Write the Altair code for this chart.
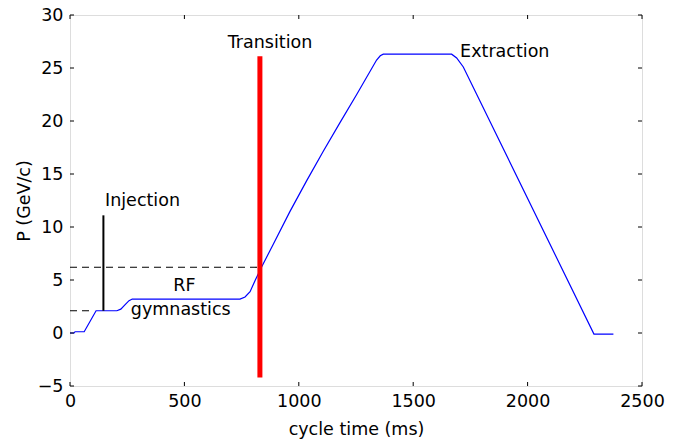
import altair as alt
import pandas as pd

# ---- data ----
t_ms = [0, 18, 22, 62, 114, 205, 222, 240, 258, 272, 743, 765, 787, 810, 838,
        889, 961, 1034, 1107, 1180, 1253, 1340, 1356, 1369, 1668, 1690, 1719, 2290, 2375]
p_gev = [0.0, 0.0, 0.12, 0.12, 2.1, 2.1, 2.25, 2.65, 3.05, 3.2, 3.2, 3.4, 3.9, 5.0, 6.25,
         8.4, 11.45, 14.35, 17.15, 19.85, 22.5, 25.75, 26.15, 26.3, 26.3, 25.95, 25.1, -0.1, -0.1]

transition_t = [830]
transition_lo = [-4.2]
transition_hi = [26.1]

injection_t = [146]
injection_lo = [2.1]
injection_hi = [11.1]

dash_p = [2.1, 6.2]
dash_t0 = [0, 0]
dash_t1 = [105, 825]

left_labels = ["Injection", "Extraction"]
left_t = [153, 1705]
left_p = [12.5, 26.5]

center_labels = ["Transition", "RF", "gymnastics"]
center_t = [874, 500, 484]
center_p = [27.4, 4.4, 2.2]

x_ticks = [0, 500, 1000, 1500, 2000, 2500]
y_ticks = [-5, 0, 5, 10, 15, 20, 25, 30]

W, H = 572, 371
FONT = "DejaVu Sans"
FS = 17.5

xs = alt.Scale(domain=[0, 2500], nice=False, zero=False)
ys = alt.Scale(domain=[-5, 30], nice=False, zero=False)
XT = "cycle time (ms)"
YT = "P (GeV/c)"

curve = pd.DataFrame({"t": t_ms, "P": p_gev})

main = alt.Chart(curve).mark_line(color="#0000ff", strokeWidth=1.2).encode(
    x=alt.X("t:Q", scale=xs, title=XT,
            axis=alt.Axis(values=x_ticks, format="d", ticks=False, domain=False, grid=False,
                          labelFont=FONT, labelFontSize=FS, labelColor="black",
                          labelPadding=6, titleFont=FONT, titleFontSize=FS,
                          titleFontWeight="normal", titleColor="black", titlePadding=11,
                          labelFlush=False)),
    y=alt.Y("P:Q", scale=ys, title=YT,
            axis=alt.Axis(values=y_ticks, format="d", ticks=False, domain=False, grid=False,
                          labelFont=FONT, labelFontSize=FS, labelColor="black",
                          labelPadding=7, titleFont=FONT, titleFontSize=FS,
                          titleFontWeight="normal", titleColor="black", titlePadding=4,
                          labelFlush=False)),
    order=alt.Order("t:Q"),
)

dash_df = pd.DataFrame({"P": dash_p, "t": dash_t0, "t2": dash_t1})
dashes = alt.Chart(dash_df).mark_rule(color="black", strokeWidth=1.1, strokeDash=[7, 5]).encode(
    x=alt.X("t:Q", scale=xs, title=XT), x2="t2:Q",
    y=alt.Y("P:Q", scale=ys, title=YT),
)

inj_df = pd.DataFrame({"t": injection_t, "P": injection_lo, "P2": injection_hi})
inj = alt.Chart(inj_df).mark_rule(color="black", strokeWidth=2).encode(
    x=alt.X("t:Q", scale=xs, title=XT),
    y=alt.Y("P:Q", scale=ys, title=YT), y2="P2:Q",
)

tr_df = pd.DataFrame({"t": transition_t, "P": transition_lo, "P2": transition_hi})
trans = alt.Chart(tr_df).mark_rule(color="#ff0000", strokeWidth=5, strokeCap="butt").encode(
    x=alt.X("t:Q", scale=xs, title=XT),
    y=alt.Y("P:Q", scale=ys, title=YT), y2="P2:Q",
)

tl_df = pd.DataFrame({"t": left_t, "P": left_p, "label": left_labels})
txt_left = alt.Chart(tl_df).mark_text(align="left", baseline="middle", font=FONT,
                                      fontSize=FS, color="black").encode(
    x=alt.X("t:Q", scale=xs, title=XT), y=alt.Y("P:Q", scale=ys, title=YT), text="label:N")

tc_df = pd.DataFrame({"t": center_t, "P": center_p, "label": center_labels})
txt_center = alt.Chart(tc_df).mark_text(align="center", baseline="middle", font=FONT,
                                        fontSize=FS, color="black").encode(
    x=alt.X("t:Q", scale=xs, title=XT), y=alt.Y("P:Q", scale=ys, title=YT), text="label:N")

xt_df = pd.DataFrame({"t": x_ticks})
yt_df = pd.DataFrame({"P": y_ticks})
tick_style = dict(color="black", strokeWidth=1)
xtick_bot = alt.Chart(xt_df).mark_rule(**tick_style).encode(
    x=alt.X("t:Q", scale=xs, title=XT), y=alt.value(H), y2=alt.value(H - 4))
xtick_top = alt.Chart(xt_df).mark_rule(**tick_style).encode(
    x=alt.X("t:Q", scale=xs, title=XT), y=alt.value(0), y2=alt.value(4))
ytick_l = alt.Chart(yt_df).mark_rule(**tick_style).encode(
    y=alt.Y("P:Q", scale=ys, title=YT), x=alt.value(0), x2=alt.value(4))
ytick_r = alt.Chart(yt_df).mark_rule(**tick_style).encode(
    y=alt.Y("P:Q", scale=ys, title=YT), x=alt.value(W - 4), x2=alt.value(W))

chart = alt.layer(
    dashes, main, inj, trans, txt_left, txt_center,
    xtick_bot, xtick_top, ytick_l, ytick_r,
).properties(
    width=W, height=H,
    autosize=alt.AutoSizeParams(type="none"),
    padding={"left": 62, "top": 7, "right": 28, "bottom": 53},
).configure_view(
    stroke="black", strokeWidth=1
).configure(background="white")

chart.save("out.html", embed_options={"renderer": "svg", "actions": False})
